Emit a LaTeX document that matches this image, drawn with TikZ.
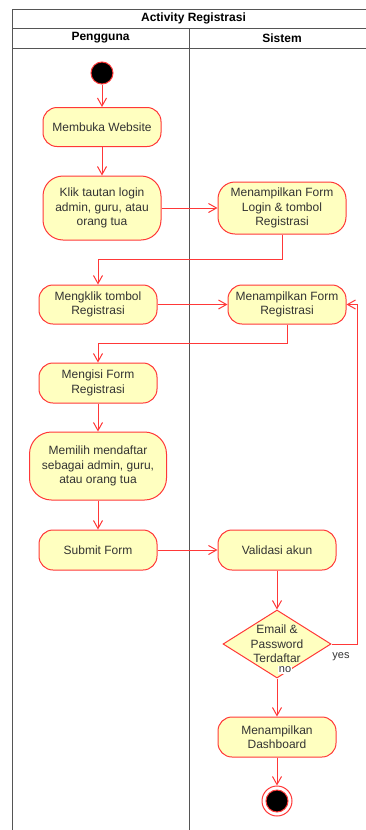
\documentclass[tikz,border=0pt]{standalone}
\usepackage{fontspec}
\setmainfont{Liberation Sans}
\usepackage{tikz}
\usetikzlibrary{arrows.meta,positioning,shapes.geometric}
\definecolor{umlred}{HTML}{FF3838}
\definecolor{umlfill}{HTML}{FFFFC0}
\definecolor{umltext}{HTML}{333333}
\definecolor{lanegray}{HTML}{555555}
\tikzset{
  actbox/.style={
    rounded corners=14pt,
    draw=umlred,
    fill=umlfill,
    line width=1pt,
    minimum width=118pt,
    minimum height=39pt,
    inner sep=2pt,
    align=center,
    text=umltext,
    font=\fontsize{12}{14.5}\selectfont
  },
  decision/.style={
    diamond,
    draw=umlred,
    fill=umlfill,
    line width=1pt,
    minimum width=108pt,
    minimum height=68pt,
    inner sep=0pt
  },
  plaintext/.style={
    align=center,
    text=umltext,
    inner sep=1pt,
    font=\fontsize{12}{14.5}\selectfont
  },
  edgelabel/.style={
    text=umltext,
    inner sep=1pt,
    font=\fontsize{11}{13}\selectfont
  },
  lanehead/.style={
    font=\bfseries\fontsize{12}{14}\selectfont,
    inner sep=0pt
  },
  lane/.style={
    draw=lanegray,
    line width=1pt
  },
  initial/.style={
    circle,
    draw=umlred,
    fill=black,
    line width=1pt,
    minimum size=22pt,
    inner sep=0pt
  },
  final/.style={
    circle,
    draw=umlred,
    fill=white,
    line width=1pt,
    minimum size=30pt,
    inner sep=0pt,
    path picture={\filldraw[draw=umlred, fill=black] (path picture bounding box.center) circle (11pt);}
  },
  flow/.style={
    -{Straight Barb[length=8pt,width=9pt]},
    draw=umlred,
    line width=1pt
  }
}

\begin{document}
\begin{tikzpicture}[x=1pt,y=-1pt]
\useasboundingbox (0,0) rectangle (366,830);
\clip (0,0) rectangle (366,830);

% swimlanes
\draw[lane] (12,9) rectangle (375,845);
\draw[lane] (12,28) -- (375,28);
\draw[lane] (12,48) -- (375,48);
\draw[lane] (189,28) -- (189,845);
\node[lanehead] (title) at (193.5,18.5) {Activity Registrasi};
\node[lanehead] (pengguna) at (100.5,38) {Pengguna};
\node[lanehead] (sistem) at (282,38) {Sistem};

% Pengguna
\node[initial] (start) at (102,73) {};
\node[actbox] (website) at (102,127) {Membuka Website};
\node[actbox, minimum height=64pt, rounded corners=20pt] (klik) at (102,208) {Klik tautan login\\admin, guru, atau\\orang tua};
\node[actbox] (mengklik) at (98,304.5) {Mengklik tombol\\Registrasi};
\node[actbox, minimum height=40pt] (mengisi) at (98,383) {Mengisi Form\\Registrasi};
\node[actbox, minimum width=137pt, minimum height=68pt, rounded corners=22pt] (memilih) at (98,466) {Memilih mendaftar\\sebagai admin, guru,\\atau orang tua};
\node[actbox, minimum height=40pt] (submit) at (98,550) {Submit Form};

% Sistem
\node[actbox, minimum width=128pt, minimum height=52pt, rounded corners=17pt] (formlogin) at (282,208) {Menampilkan Form\\Login \& tombol\\Registrasi};
\node[actbox] (formreg) at (287,304.5) {Menampilkan Form\\Registrasi};
\node[actbox, minimum height=40pt] (validasi) at (277,550) {Validasi akun};
\node[decision] (cek) at (277,644) {};
\node[plaintext] (cektext) at (cek.center) {Email \&\\Password\\Terdaftar};
\node[actbox, minimum height=40pt] (dashboard) at (277,737) {Menampilkan\\Dashboard};
\node[final] (finish) at (277,801) {};

% alur
\draw[flow] (start) -- (website);
\draw[flow] (website) -- (klik);
\draw[flow] (klik) -- (klik -| formlogin.west);
\draw[flow] (formlogin.south) -- ++(0,25) -| (mengklik.north);
\draw[flow] (mengklik) -- (formreg);
\draw[flow] (formreg.south) -- ++(0,19) -| (mengisi.north);
\draw[flow] (mengisi) -- (memilih);
\draw[flow] (memilih) -- (submit);
\draw[flow] (submit) -- (validasi);
\draw[flow] (validasi) -- (cek);
\draw[flow] (cek.east) -- ++(26,0) |- (formreg.east);
\draw[flow] (cek.south) -- (dashboard);
\draw[flow] (dashboard) -- (finish);
\node[edgelabel] (yes) at (341,657) {yes};
\node[edgelabel, fill=white] (no) at (285,670) {no};
\end{tikzpicture}
\end{document}
